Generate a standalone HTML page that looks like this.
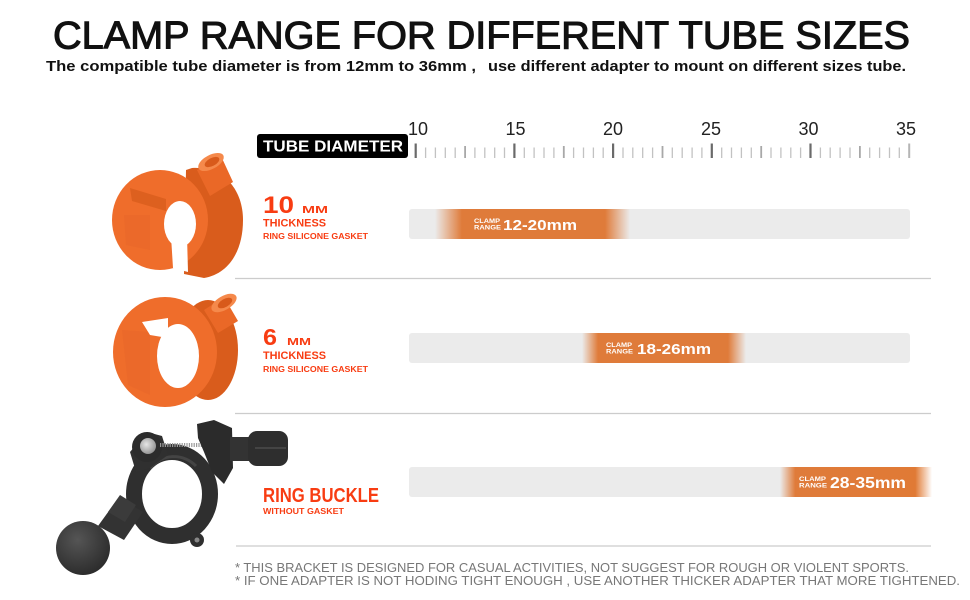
<!DOCTYPE html>
<html>
<head>
<meta charset="utf-8">
<style>
html,body{margin:0;padding:0;background:#fff;}
svg{display:block;}
text{font-family:"Liberation Sans",Arial,sans-serif;}
</style>
</head>
<body>
<svg width="970" height="600" viewBox="0 0 970 600" xmlns="http://www.w3.org/2000/svg">
<defs>
  <linearGradient id="g1" gradientUnits="userSpaceOnUse" x1="435" y1="0" x2="630" y2="0">
    <stop offset="0" stop-color="#df7b3a" stop-opacity="0"/>
    <stop offset="0.138" stop-color="#df7b3a" stop-opacity="1"/>
    <stop offset="0.872" stop-color="#df7b3a" stop-opacity="1"/>
    <stop offset="1" stop-color="#df7b3a" stop-opacity="0"/>
  </linearGradient>
  <linearGradient id="g2" gradientUnits="userSpaceOnUse" x1="582" y1="0" x2="746" y2="0">
    <stop offset="0" stop-color="#df7b3a" stop-opacity="0"/>
    <stop offset="0.098" stop-color="#df7b3a" stop-opacity="1"/>
    <stop offset="0.89" stop-color="#df7b3a" stop-opacity="1"/>
    <stop offset="1" stop-color="#df7b3a" stop-opacity="0"/>
  </linearGradient>
  <linearGradient id="g3" gradientUnits="userSpaceOnUse" x1="780" y1="0" x2="932" y2="0">
    <stop offset="0" stop-color="#df7b3a" stop-opacity="0"/>
    <stop offset="0.1" stop-color="#df7b3a" stop-opacity="1"/>
    <stop offset="0.89" stop-color="#e07a35" stop-opacity="1"/>
    <stop offset="1" stop-color="#e07a35" stop-opacity="0"/>
  </linearGradient>
  <radialGradient id="ball" cx="0.4" cy="0.35" r="0.7">
    <stop offset="0" stop-color="#555"/>
    <stop offset="1" stop-color="#2a2a2a"/>
  </radialGradient>
  <radialGradient id="disc" cx="0.4" cy="0.4" r="0.7">
    <stop offset="0" stop-color="#e6e6e6"/>
    <stop offset="1" stop-color="#8a8a8a"/>
  </radialGradient>
</defs>

<!-- Title -->
<text x="53" y="48.5" font-size="39" fill="#111" stroke="#111" stroke-width="1.1" textLength="857" lengthAdjust="spacingAndGlyphs">CLAMP RANGE FOR DIFFERENT TUBE SIZES</text>
<text x="46" y="71" font-size="15" font-weight="bold" fill="#111" textLength="430" lengthAdjust="spacingAndGlyphs">The compatible tube diameter is from 12mm to 36mm ,</text>
<text x="488" y="71" font-size="15" font-weight="bold" fill="#111" textLength="418" lengthAdjust="spacingAndGlyphs">use different adapter to mount on different sizes tube.</text>

<!-- Tube diameter label -->
<rect x="257" y="134" width="151" height="24" rx="3" fill="#000"/>
<text x="263" y="151.7" font-size="16" font-weight="bold" fill="#fff" textLength="140" lengthAdjust="spacingAndGlyphs">TUBE DIAMETER</text>

<!-- Ruler numbers -->
<g font-size="18" fill="#222" text-anchor="middle">
  <text x="418" y="135">10</text>
  <text x="515.5" y="135">15</text>
  <text x="613" y="135">20</text>
  <text x="711" y="135">25</text>
  <text x="808.5" y="135">30</text>
  <text x="906" y="135">35</text>
</g>

<!-- Ruler ticks minor -->
<path stroke="#c2c2c2" stroke-width="1.3" fill="none" d="
M425.6 147.5V158 M435.4 147.5V158 M445.3 147.5V158 M455.2 147.5V158
M474.9 147.5V158 M484.8 147.5V158 M494.7 147.5V158 M504.5 147.5V158
M524.3 147.5V158 M534.1 147.5V158 M544.0 147.5V158 M553.9 147.5V158
M573.6 147.5V158 M583.5 147.5V158 M593.4 147.5V158 M603.2 147.5V158
M623.0 147.5V158 M632.8 147.5V158 M642.7 147.5V158 M652.6 147.5V158
M672.3 147.5V158 M682.2 147.5V158 M692.1 147.5V158 M701.9 147.5V158
M721.7 147.5V158 M731.5 147.5V158 M741.4 147.5V158 M751.3 147.5V158
M771.0 147.5V158 M780.9 147.5V158 M790.8 147.5V158 M800.6 147.5V158
M820.4 147.5V158 M830.2 147.5V158 M840.1 147.5V158 M850.0 147.5V158
M869.7 147.5V158 M879.6 147.5V158 M889.5 147.5V158 M899.3 147.5V158"/>
<!-- medium ticks -->
<path stroke="#a8a8a8" stroke-width="1.8" fill="none" d="
M465.1 146V158 M563.8 146V158 M662.5 146V158 M761.2 146V158 M859.9 146V158"/>
<!-- major ticks -->
<path stroke="#6a6a6a" stroke-width="2.2" fill="none" d="
M415.7 143.5V158 M514.4 143.5V158 M613.1 143.5V158 M711.8 143.5V158 M810.5 143.5V158"/>
<path stroke="#b5b5b5" stroke-width="2" fill="none" d="M909.2 143.5V158"/>

<!-- Separators -->
<g stroke="#cccccc" stroke-width="1.2">
  <line x1="235" y1="278.5" x2="931" y2="278.5"/>
  <line x1="235" y1="413.5" x2="931" y2="413.5"/>
  <line x1="236" y1="546" x2="931" y2="546"/>
</g>

<!-- Row 1 -->
<rect x="409" y="209" width="501" height="30" rx="3" fill="#ebebeb"/>
<rect x="435" y="209" width="195" height="30" fill="url(#g1)"/>
<text x="474" y="223" font-size="6.5" font-weight="bold" fill="#fff" textLength="26" lengthAdjust="spacingAndGlyphs">CLAMP</text>
<text x="474" y="229.5" font-size="6.5" font-weight="bold" fill="#fff" textLength="27" lengthAdjust="spacingAndGlyphs">RANGE</text>
<text x="503" y="230" font-size="15" font-weight="bold" fill="#fff" textLength="74" lengthAdjust="spacingAndGlyphs">12-20mm</text>

<g fill="#f83c12" font-weight="bold">
  <text x="263" y="213" font-size="24" textLength="31" lengthAdjust="spacingAndGlyphs">10</text>
  <text x="302" y="213" font-size="10" textLength="26" lengthAdjust="spacingAndGlyphs">MM</text>
  <text x="263" y="226.5" font-size="11" textLength="63" lengthAdjust="spacingAndGlyphs">THICKNESS</text>
  <text x="263" y="239" font-size="8" textLength="105" lengthAdjust="spacingAndGlyphs">RING SILICONE GASKET</text>
</g>

<!-- Row 2 -->
<rect x="409" y="333" width="501" height="30" rx="3" fill="#ebebeb"/>
<rect x="582" y="333" width="164" height="30" fill="url(#g2)"/>
<text x="606" y="347" font-size="6.5" font-weight="bold" fill="#fff" textLength="26" lengthAdjust="spacingAndGlyphs">CLAMP</text>
<text x="606" y="353.5" font-size="6.5" font-weight="bold" fill="#fff" textLength="27" lengthAdjust="spacingAndGlyphs">RANGE</text>
<text x="637" y="354" font-size="15" font-weight="bold" fill="#fff" textLength="74" lengthAdjust="spacingAndGlyphs">18-26mm</text>

<g fill="#f83c12" font-weight="bold">
  <text x="263" y="345" font-size="23" textLength="14" lengthAdjust="spacingAndGlyphs">6</text>
  <text x="287" y="345" font-size="10" textLength="24" lengthAdjust="spacingAndGlyphs">MM</text>
  <text x="263" y="359" font-size="11" textLength="63" lengthAdjust="spacingAndGlyphs">THICKNESS</text>
  <text x="263" y="372" font-size="8" textLength="105" lengthAdjust="spacingAndGlyphs">RING SILICONE GASKET</text>
</g>

<!-- Row 3 -->
<rect x="409" y="467" width="500" height="30" rx="3" fill="#ebebeb"/>
<rect x="780" y="467" width="152" height="30" fill="url(#g3)"/>
<text x="799" y="481" font-size="6.5" font-weight="bold" fill="#fff" textLength="27" lengthAdjust="spacingAndGlyphs">CLAMP</text>
<text x="799" y="487.5" font-size="6.5" font-weight="bold" fill="#fff" textLength="28" lengthAdjust="spacingAndGlyphs">RANGE</text>
<text x="830" y="488" font-size="15.5" font-weight="bold" fill="#fff" textLength="76" lengthAdjust="spacingAndGlyphs">28-35mm</text>

<g fill="#f83c12" font-weight="bold">
  <text x="263" y="502" font-size="20" textLength="116" lengthAdjust="spacingAndGlyphs">RING BUCKLE</text>
  <text x="263" y="514" font-size="8" textLength="81" lengthAdjust="spacingAndGlyphs">WITHOUT GASKET</text>
</g>

<!-- Footnotes -->
<g fill="#777777" font-size="12.5">
  <text x="235" y="572" textLength="674" lengthAdjust="spacingAndGlyphs">* THIS BRACKET IS DESIGNED FOR CASUAL ACTIVITIES,  NOT SUGGEST FOR ROUGH OR VIOLENT SPORTS.</text>
  <text x="235" y="585" textLength="725" lengthAdjust="spacingAndGlyphs">* IF ONE ADAPTER IS NOT HODING TIGHT ENOUGH , USE ANOTHER THICKER ADAPTER THAT MORE TIGHTENED.</text>
</g>

<!-- Gasket 1 (10mm) -->
<g>
  <path d="M192,168 C224,166 243,190 243,220 C243,252 228,274 204,278 L184,274 L186,170 Z" fill="#d95c1c"/>
  <ellipse cx="160" cy="220" rx="48" ry="50" fill="#ef6d2b"/>
  <path d="M130,188 L166,199 L166,211 L132,201 Z" fill="#dd601f"/>
  <path d="M124,215 L150,215 L150,250 L126,245 Z" fill="#e7672a" opacity="0.6"/>
  <ellipse cx="180" cy="224" rx="16" ry="23" fill="#fff"/>
  <path d="M171,236 L187,236 L188,272 L173,268 Z" fill="#fff"/>
  <path d="M197,170 L221,156 L233,182 L210,196 Z" fill="#ea6827"/>
  <ellipse cx="211" cy="162" rx="14" ry="7" transform="rotate(-28 211 162)" fill="#f5894b"/>
  <ellipse cx="212" cy="162" rx="8" ry="4" transform="rotate(-28 212 162)" fill="#d85a1b"/>
</g>

<!-- Gasket 2 (6mm) -->
<g>
  <ellipse cx="208" cy="350" rx="30" ry="50" fill="#d95c1c"/>
  <ellipse cx="165" cy="352" rx="52" ry="55" fill="#ef6d2b"/>
  <path d="M122,330 L150,332 L150,395 L128,385 Z" fill="#e7672a" opacity="0.6"/>
  <ellipse cx="178" cy="356" rx="21" ry="32" fill="#fff"/>
  <path d="M142,322 L168,318 L168,338 L150,335 Z" fill="#fff"/>
  <path d="M204,310 L224,297 L238,321 L218,333 Z" fill="#ea6827"/>
  <ellipse cx="224" cy="303" rx="14" ry="7" transform="rotate(-30 224 303)" fill="#f5894b"/>
  <ellipse cx="225" cy="303" rx="8" ry="4" transform="rotate(-30 225 303)" fill="#d85a1b"/>
</g>

<!-- Ring buckle clamp -->
<g>
  <!-- ring -->
  <ellipse cx="172" cy="494" rx="38" ry="42" fill="none" stroke="#2f2f2f" stroke-width="16"/>
  <path d="M150,468 A32,34 0 0 1 196,466" fill="none" stroke="#444" stroke-width="3"/>
  <!-- upper left arm + pivot -->
  <path d="M130,452 L147,432 L162,436 L168,455 L150,468 L136,472 Z" fill="#303030"/>
  <circle cx="147" cy="447" r="15" fill="#2c2c2c"/>
  <circle cx="148" cy="446" r="8" fill="url(#disc)"/>
  <!-- spring -->
  <line x1="160" y1="445" x2="206" y2="445" stroke="#9a9a9a" stroke-width="4" stroke-dasharray="1.2 1.2"/>
  <!-- right jaw -->
  <path d="M197,424 L214,420 L232,428 L233,468 L224,484 L212,472 L204,452 L198,438 Z" fill="#2b2b2b"/>
  <!-- knob -->
  <rect x="230" y="437" width="22" height="24" fill="#333"/>
  <rect x="248" y="431" width="40" height="35" rx="9" fill="#2e2e2e"/>
  <line x1="255" y1="448" x2="286" y2="448" stroke="#444" stroke-width="2"/>
  <!-- neck / nuts -->
  <path d="M98,526 L119,497 L143,512 L124,540 Z" fill="#333"/>
  <path d="M108,512 L120,495 L136,505 L125,522 Z" fill="#3b3b3b"/>
  <!-- hinge -->
  <circle cx="197" cy="540" r="7" fill="#2f2f2f"/>
  <circle cx="197" cy="540" r="2.5" fill="#888"/>
  <!-- ball -->
  <circle cx="83" cy="548" r="27" fill="url(#ball)"/>
</g>
</svg>
</body>
</html>
